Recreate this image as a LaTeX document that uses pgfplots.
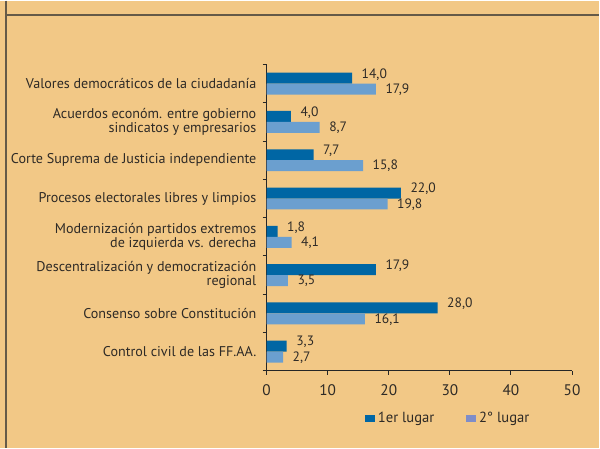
\documentclass[border=0pt]{standalone}
\usepackage{fontspec}
\setmainfont{PT Sans}
\usepackage{pgfplots}
\pgfplotsset{compat=1.18}
\definecolor{bg}{HTML}{F2C886}
\definecolor{dk}{HTML}{0066A4}
\definecolor{lt}{HTML}{6B9FCF}
\definecolor{lg}{HTML}{7F8DC8}
\definecolor{txt}{HTML}{2E2A26}
\definecolor{fr}{HTML}{655A48}
\begin{document}
\begin{tikzpicture}
\begin{scope}[x=0.75pt,y=-0.75pt]
\fill[bg] (0,0) rectangle (600,448);
\draw[fr,line width=1.5pt] (6,14.7) -- (600,14.7);
\draw[fr,line width=1pt] (6,0) -- (6,448);
\end{scope}
\begin{axis}[
  at={(200.25pt,-48pt)}, anchor=north west,
  width=229.5pt, height=230pt, scale only axis,
  xmin=0, xmax=50, ymin=-0.5, ymax=7.5, y dir=reverse,
  axis x line*=bottom, axis y line*=left,
  axis line style={black!85, line width=0.8pt},
  every tick/.style={black!85, line width=0.8pt},
  xtick={0,10,...,50},
  ytick={0,...,7},
  yticklabels={
    {Valores democráticos de la ciudadanía},
    {Acuerdos económ. entre gobierno\\sindicatos y empresarios},
    {Corte Suprema de Justicia independiente},
    {Procesos electorales libres y limpios},
    {Modernización partidos extremos\\de izquierda vs. derecha},
    {Descentralización y democratización\\regional},
    {Consenso sobre Constitución},
    {Control civil de las FF.AA.}},
  major y tick style={draw=none},
  minor ytick={-0.5,0.5,...,7.5},
  tick align=outside, major tick length=3pt, minor tick length=3pt,
  /pgf/number format/assume math mode=true,
  yticklabel style={align=right, inner sep=0pt, xshift=-4.5pt, font=\fontsize{10.6}{10.4}\selectfont, text=txt},
  xticklabel style={inner sep=0pt, yshift=-7pt, font=\fontsize{11.5}{12}\selectfont, text=txt},
  point meta=x,
  nodes near coords,
  nodes near coords style={anchor=west, inner sep=0pt, xshift=7pt, font=\fontsize{10.2}{10}\selectfont, text=txt,
    /pgf/number format/fixed, /pgf/number format/fixed zerofill, /pgf/number format/precision=1, /pgf/number format/use comma},
  legend style={at={(0.596,-0.157)}, anchor=center, draw=none, fill=none,
    legend columns=2, font=\fontsize{11}{11}\selectfont, text=txt,
    /tikz/every even column/.append style={column sep=22pt}},
  legend cell align=left,
]
\addplot[xbar, bar shift=0pt, bar width=0.287, fill=dk, draw=none,
  every node near coord/.append style={yshift=3pt},
  legend image code/.code={\fill[dk] (0pt,-2.6pt) rectangle (7.5pt,2.6pt);}]
  coordinates {(14.0,-0.1435) (4.0,0.8565) (7.7,1.8565) (22.0,2.8565) (1.8,3.8565) (17.9,4.8565) (28.0,5.8565) (3.3,6.8565)};
\addlegendentry{1er lugar}
\addplot[xbar, bar shift=0pt, bar width=0.287, fill=lt, draw=none,
  every node near coord/.append style={yshift=-0.3pt},
  legend image code/.code={\fill[lg] (0pt,-2.6pt) rectangle (7.5pt,2.6pt);}]
  coordinates {(17.9,0.1435) (8.7,1.1435) (15.8,2.1435) (19.8,3.1435) (4.1,4.1435) (3.5,5.1435) (16.1,6.1435) (2.7,7.1435)};
\addlegendentry{2° lugar}
\end{axis}
\end{tikzpicture}
\end{document}
